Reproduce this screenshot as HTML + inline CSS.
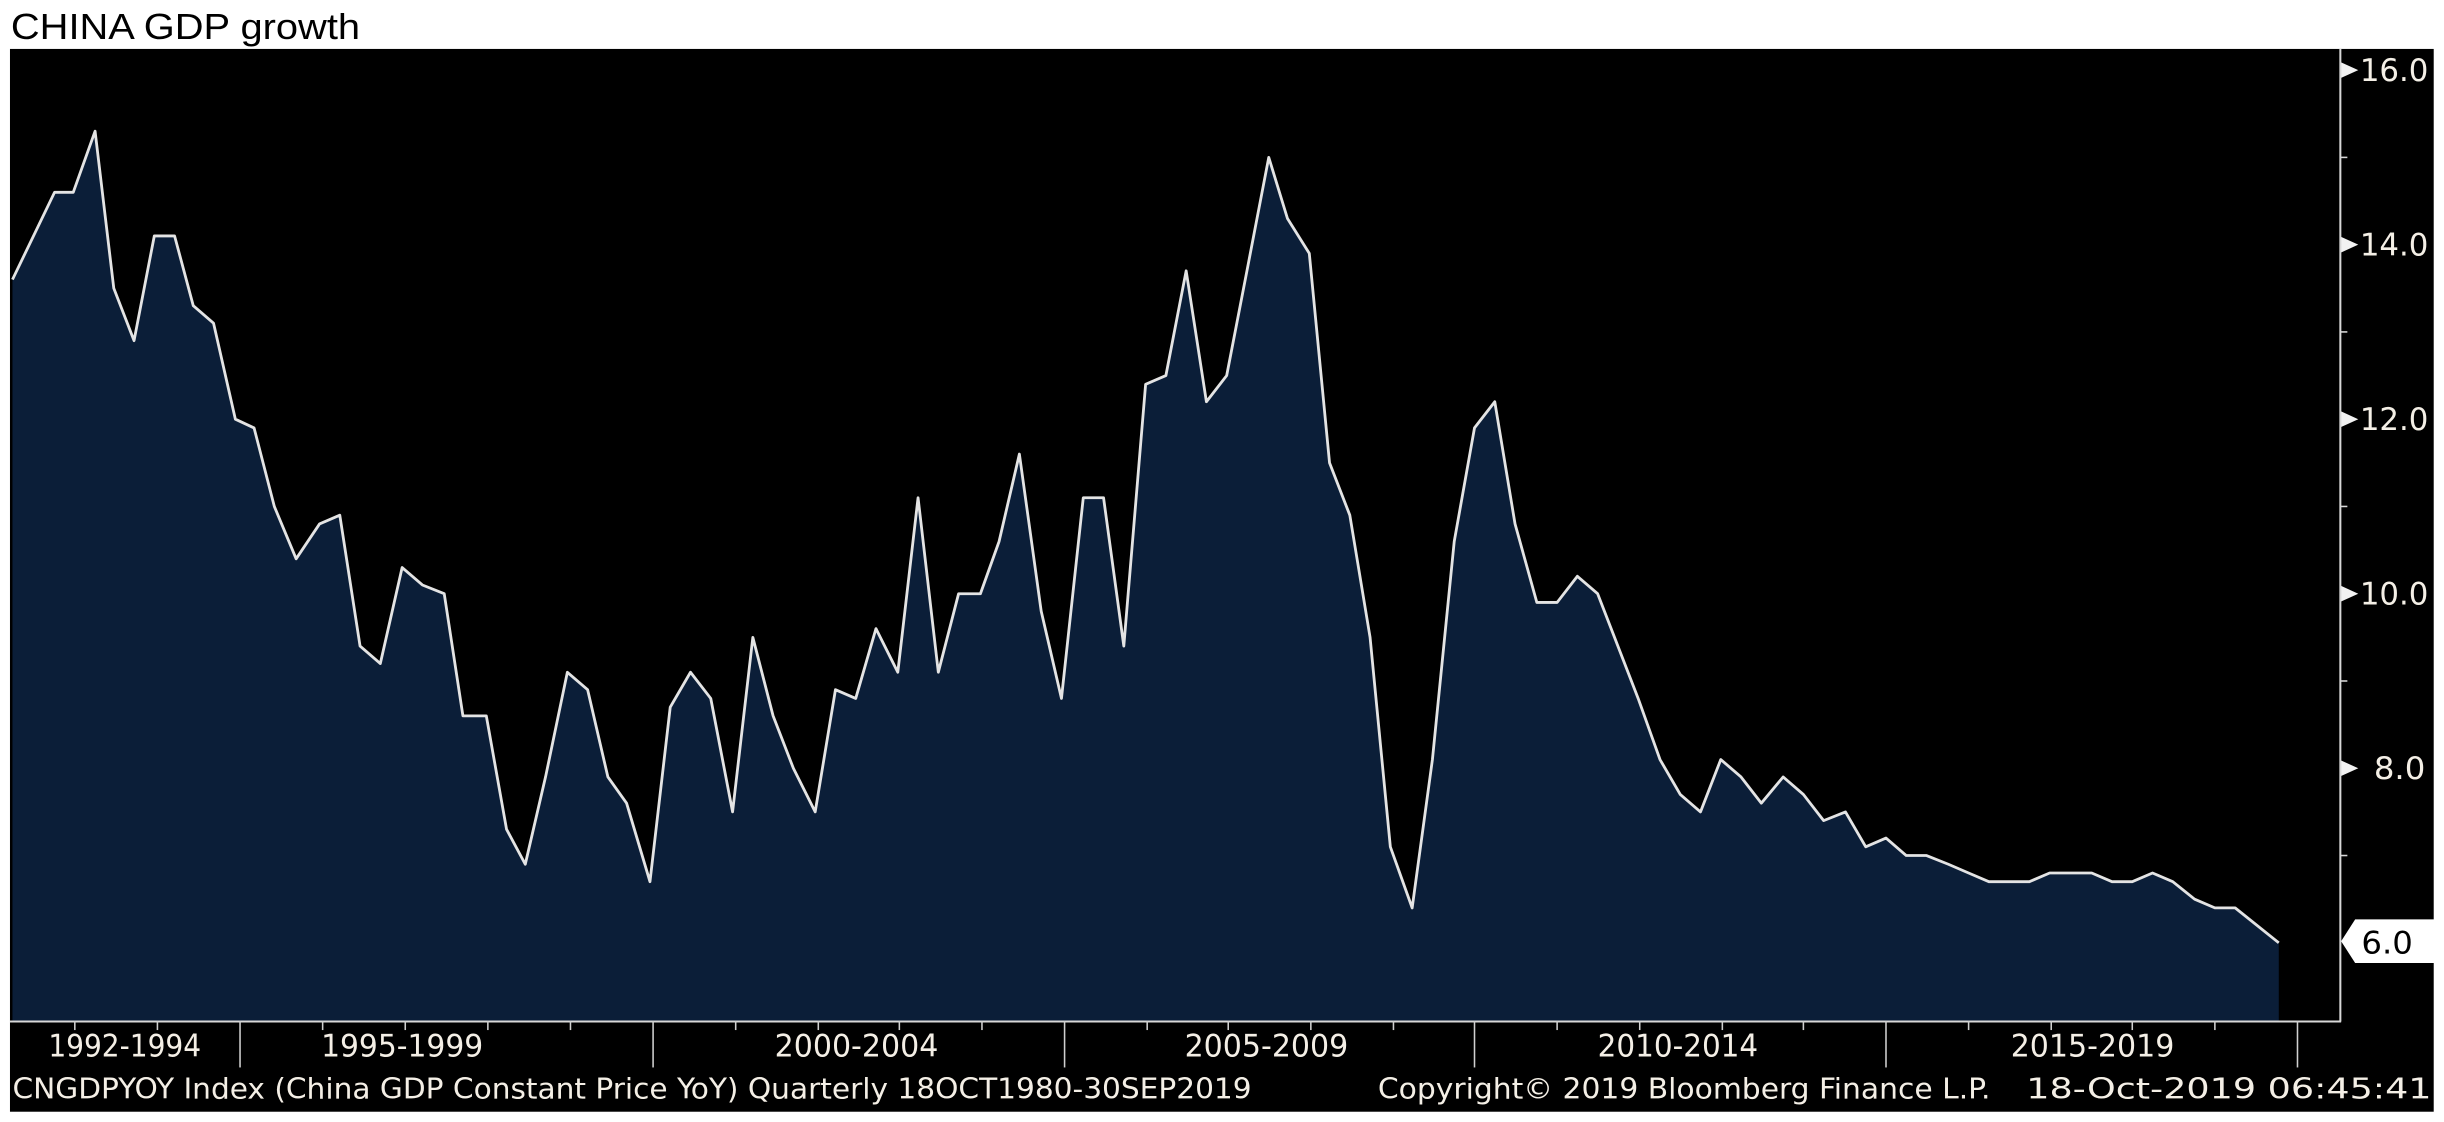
<!DOCTYPE html>
<html><head><meta charset="utf-8"><style>
html,body{margin:0;padding:0;background:#fff;}
svg{display:block;}
</style></head><body>
<svg width="2444" height="1122" viewBox="0 0 1568 720" preserveAspectRatio="none" xmlns="http://www.w3.org/2000/svg">
<rect x="0" y="0" width="1568" height="720" fill="#fff"/>
<text x="7" y="25" font-family="Liberation Sans, Arial, sans-serif" font-size="23" fill="#000" textLength="224" lengthAdjust="spacingAndGlyphs">CHINA GDP growth</text>
<rect x="6.4" y="31.4" width="1555" height="682" fill="#000"/>
<polygon fill="#0b1e38" points="8,655 8,179.4 35,123.4 47,123.4 61,84.2 73,185 86,218.6 99,151.4 112,151.4 124,196.2 137,207.4 151,269 163,274.6 176,325 190,358.6 205,336.2 218,330.6 231,414.6 244,425.8 258,364.2 271,375.4 285,381 297,459.4 312,459.4 325,532.2 337,554.6 350,498.6 364,431.4 377,442.6 390,498.6 402,515.4 417,565.8 430,453.8 443,431.4 456,448.2 470,521 483,409 496,459.4 509,493 523,521 536,442.6 549,448.2 562,403.4 576,431.4 589,319.4 602,431.4 615,381 629,381 641,347.4 654,291.4 668,392.2 681,448.2 695,319.4 708,319.4 721,414.6 735,246.6 748,241 761,173.8 774,257.8 787,241 800,173.8 814,101 826,140.2 840,162.6 853,297 866,330.6 879,409 892,543.4 906,582.6 919,487.4 933,347.4 946,274.6 959,257.8 972,336.2 986,386.6 999,386.6 1012,369.8 1025,381 1038,414.6 1051,448.2 1065,487.4 1078,509.8 1091,521 1104,487.4 1117,498.6 1130,515.4 1144,498.6 1157,509.8 1170,526.6 1184,521 1197,543.4 1210,537.8 1223,549 1236,549 1250,554.6 1263,560.2 1276,565.8 1289,565.8 1302,565.8 1315,560.2 1328,560.2 1342,560.2 1355,565.8 1368,565.8 1381,560.2 1394,565.8 1408,577 1421,582.6 1434,582.6 1462,605 1462,655"/>
<polyline fill="none" stroke="#e4e4e4" stroke-width="1.8" stroke-linejoin="round" points="8,179.4 35,123.4 47,123.4 61,84.2 73,185 86,218.6 99,151.4 112,151.4 124,196.2 137,207.4 151,269 163,274.6 176,325 190,358.6 205,336.2 218,330.6 231,414.6 244,425.8 258,364.2 271,375.4 285,381 297,459.4 312,459.4 325,532.2 337,554.6 350,498.6 364,431.4 377,442.6 390,498.6 402,515.4 417,565.8 430,453.8 443,431.4 456,448.2 470,521 483,409 496,459.4 509,493 523,521 536,442.6 549,448.2 562,403.4 576,431.4 589,319.4 602,431.4 615,381 629,381 641,347.4 654,291.4 668,392.2 681,448.2 695,319.4 708,319.4 721,414.6 735,246.6 748,241 761,173.8 774,257.8 787,241 800,173.8 814,101 826,140.2 840,162.6 853,297 866,330.6 879,409 892,543.4 906,582.6 919,487.4 933,347.4 946,274.6 959,257.8 972,336.2 986,386.6 999,386.6 1012,369.8 1025,381 1038,414.6 1051,448.2 1065,487.4 1078,509.8 1091,521 1104,487.4 1117,498.6 1130,515.4 1144,498.6 1157,509.8 1170,526.6 1184,521 1197,543.4 1210,537.8 1223,549 1236,549 1250,554.6 1263,560.2 1276,565.8 1289,565.8 1302,565.8 1315,560.2 1328,560.2 1342,560.2 1355,565.8 1368,565.8 1381,560.2 1394,565.8 1408,577 1421,582.6 1434,582.6 1462,605"/>
<line x1="1501.5" y1="31.4" x2="1501.5" y2="655.5" stroke="#d8d8d8" stroke-width="1.3"/>
<line x1="6.4" y1="655.5" x2="1502" y2="655.5" stroke="#d8d8d8" stroke-width="1.3"/>
<g fill="#f2f2f2">
<polygon points="1502,40 1513,45 1502,50"/>
<polygon points="1502,152 1513,157 1502,162"/>
<polygon points="1502,264 1513,269 1502,274"/>
<polygon points="1502,376 1513,381 1502,386"/>
<polygon points="1502,488 1513,493 1502,498"/>
</g>
<g stroke="#d8d8d8" stroke-width="1">
<line x1="1501" y1="101" x2="1506" y2="101"/>
<line x1="1501" y1="213" x2="1506" y2="213"/>
<line x1="1501" y1="325" x2="1506" y2="325"/>
<line x1="1501" y1="437" x2="1506" y2="437"/>
<line x1="1501" y1="549" x2="1506" y2="549"/>
</g>
<g font-family="DejaVu Sans Condensed, Liberation Sans Narrow, sans-serif" font-size="20" fill="#f4efe6">
<text x="1514" y="52" textLength="44" lengthAdjust="spacingAndGlyphs">16.0</text>
<text x="1514" y="164" textLength="44" lengthAdjust="spacingAndGlyphs">14.0</text>
<text x="1514" y="276" textLength="44" lengthAdjust="spacingAndGlyphs">12.0</text>
<text x="1514" y="388" textLength="44" lengthAdjust="spacingAndGlyphs">10.0</text>
<text x="1523" y="500" textLength="33" lengthAdjust="spacingAndGlyphs">8.0</text>
</g>
<polygon points="1502,604 1511,590 1562,590 1562,618 1511,618" fill="#fff"/>
<text x="1515" y="612" font-family="DejaVu Sans Condensed, Liberation Sans Narrow, sans-serif" font-size="20" fill="#000" textLength="33" lengthAdjust="spacingAndGlyphs">6.0</text>
<g stroke="#d0d0d0" stroke-width="1">
<line x1="154" y1="655" x2="154" y2="685"/>
<line x1="419" y1="655" x2="419" y2="685"/>
<line x1="683" y1="655" x2="683" y2="685"/>
<line x1="946" y1="655" x2="946" y2="685"/>
<line x1="1210" y1="655" x2="1210" y2="685"/>
<line x1="1474" y1="655" x2="1474" y2="685"/>
<line x1="48" y1="655" x2="48" y2="661"/><line x1="101" y1="655" x2="101" y2="661"/>
<line x1="207" y1="655" x2="207" y2="661"/><line x1="260" y1="655" x2="260" y2="661"/><line x1="313" y1="655" x2="313" y2="661"/><line x1="366" y1="655" x2="366" y2="661"/>
<line x1="472" y1="655" x2="472" y2="661"/><line x1="525" y1="655" x2="525" y2="661"/><line x1="577" y1="655" x2="577" y2="661"/><line x1="630" y1="655" x2="630" y2="661"/>
<line x1="736" y1="655" x2="736" y2="661"/><line x1="788" y1="655" x2="788" y2="661"/><line x1="841" y1="655" x2="841" y2="661"/><line x1="894" y1="655" x2="894" y2="661"/>
<line x1="999" y1="655" x2="999" y2="661"/><line x1="1052" y1="655" x2="1052" y2="661"/><line x1="1105" y1="655" x2="1105" y2="661"/><line x1="1157" y1="655" x2="1157" y2="661"/>
<line x1="1263" y1="655" x2="1263" y2="661"/><line x1="1316" y1="655" x2="1316" y2="661"/><line x1="1368" y1="655" x2="1368" y2="661"/><line x1="1421" y1="655" x2="1421" y2="661"/>
</g>
<g font-family="DejaVu Sans Condensed, Liberation Sans Narrow, sans-serif" font-size="20" fill="#f4efe6">
<text x="31" y="678" textLength="98" lengthAdjust="spacingAndGlyphs">1992-1994</text>
<text x="206" y="678" textLength="104" lengthAdjust="spacingAndGlyphs">1995-1999</text>
<text x="497" y="678" textLength="105" lengthAdjust="spacingAndGlyphs">2000-2004</text>
<text x="760" y="678" textLength="105" lengthAdjust="spacingAndGlyphs">2005-2009</text>
<text x="1025" y="678" textLength="103" lengthAdjust="spacingAndGlyphs">2010-2014</text>
<text x="1290" y="678" textLength="105" lengthAdjust="spacingAndGlyphs">2015-2019</text>
</g>
<g font-family="DejaVu Sans Condensed, Liberation Sans Narrow, sans-serif" font-size="18" fill="#f4efe6">
<text x="8" y="705" textLength="795" lengthAdjust="spacingAndGlyphs">CNGDPYOY Index (China GDP Constant Price YoY)  Quarterly 18OCT1980-30SEP2019</text>
<text x="884" y="705" textLength="393" lengthAdjust="spacingAndGlyphs">Copyright© 2019 Bloomberg Finance L.P.</text>
<text x="1300" y="705" textLength="260" lengthAdjust="spacingAndGlyphs">18-Oct-2019 06:45:41</text>
</g>
</svg>
</body></html>
